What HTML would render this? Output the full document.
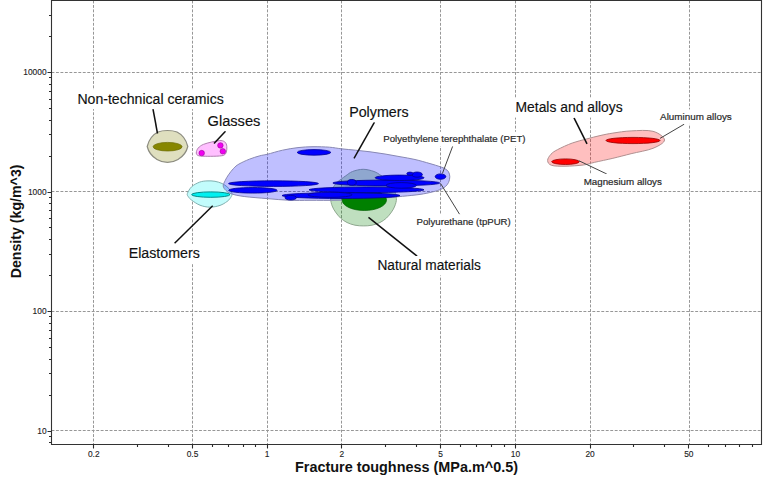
<!DOCTYPE html>
<html><head><meta charset="utf-8"><title>Fracture toughness vs Density</title>
<style>html,body{margin:0;padding:0;background:#fff;width:768px;height:478px;overflow:hidden}svg{display:block;font-family:"Liberation Sans",sans-serif}</style>
</head><body>
<svg width="768" height="478" viewBox="0 0 768 478" style="font-family:&quot;Liberation Sans&quot;,sans-serif"><g stroke="#979797" stroke-width="1" stroke-dasharray="2.9 1.57"><line x1="93.50" y1="0.5" x2="93.50" y2="444.5"/><line x1="192.50" y1="0.5" x2="192.50" y2="444.5"/><line x1="267.50" y1="0.5" x2="267.50" y2="444.5"/><line x1="341.50" y1="0.5" x2="341.50" y2="444.5"/><line x1="440.50" y1="0.5" x2="440.50" y2="444.5"/><line x1="515.50" y1="0.5" x2="515.50" y2="444.5"/><line x1="590.50" y1="0.5" x2="590.50" y2="444.5"/><line x1="689.50" y1="0.5" x2="689.50" y2="444.5"/><line x1="51.5" y1="430.50" x2="761.5" y2="430.50"/><line x1="51.5" y1="311.50" x2="761.5" y2="311.50"/><line x1="51.5" y1="191.50" x2="761.5" y2="191.50"/><line x1="51.5" y1="72.50" x2="761.5" y2="72.50"/></g>
<path d="M330.70,198.50 C330.77,195.67 331.63,191.58 332.60,189.00 C333.57,186.42 335.03,184.67 336.50,183.00 C337.97,181.33 339.85,180.20 341.40,179.00 C342.95,177.80 343.95,177.05 345.80,175.80 C347.65,174.55 349.60,172.58 352.50,171.50 C355.40,170.42 359.62,169.30 363.20,169.30 C366.78,169.30 371.03,170.47 374.00,171.50 C376.97,172.53 379.08,174.25 381.00,175.50 C382.92,176.75 384.00,177.75 385.50,179.00 C387.00,180.25 388.58,181.33 390.00,183.00 C391.42,184.67 392.93,186.42 394.00,189.00 C395.07,191.58 396.27,195.67 396.40,198.50 C396.53,201.33 395.62,203.75 394.80,206.00 C393.98,208.25 392.88,210.00 391.50,212.00 C390.12,214.00 388.42,216.25 386.50,218.00 C384.58,219.75 382.42,221.30 380.00,222.50 C377.58,223.70 374.75,224.63 372.00,225.20 C369.25,225.77 366.33,225.90 363.50,225.90 C360.67,225.90 357.75,225.77 355.00,225.20 C352.25,224.63 349.42,223.70 347.00,222.50 C344.58,221.30 342.42,219.75 340.50,218.00 C338.58,216.25 336.88,214.00 335.50,212.00 C334.12,210.00 333.00,208.25 332.20,206.00 C331.40,203.75 330.63,201.33 330.70,198.50Z" fill="rgba(0,128,0,0.25)" stroke="#8fa88f" stroke-width="1"/><path d="M187.40,193.50 C187.95,191.82 189.68,188.58 191.70,186.70 C193.72,184.82 196.95,183.17 199.50,182.20 C202.05,181.23 204.42,181.05 207.00,180.90 C209.58,180.75 212.50,180.87 215.00,181.30 C217.50,181.73 220.02,182.60 222.00,183.50 C223.98,184.40 225.48,185.53 226.90,186.70 C228.32,187.87 229.65,189.20 230.50,190.50 C231.35,191.80 232.08,193.17 232.00,194.50 C231.92,195.83 230.85,197.32 230.00,198.50 C229.15,199.68 228.57,200.45 226.90,201.60 C225.23,202.75 222.82,204.47 220.00,205.40 C217.18,206.33 213.33,207.23 210.00,207.20 C206.67,207.17 203.05,206.37 200.00,205.20 C196.95,204.03 193.63,201.60 191.70,200.20 C189.77,198.80 189.12,197.92 188.40,196.80 C187.68,195.68 186.85,195.18 187.40,193.50Z" fill="#c2fcfc" stroke="#80b0b0" stroke-width="1"/><path d="M223.20,186.00 C223.07,184.33 224.32,182.37 225.20,180.50 C226.08,178.63 227.08,176.83 228.50,174.80 C229.92,172.77 231.97,170.08 233.70,168.30 C235.43,166.52 236.28,165.62 238.90,164.10 C241.52,162.58 245.92,160.58 249.40,159.20 C252.88,157.82 256.83,156.62 259.80,155.80 C262.77,154.98 263.42,155.23 267.20,154.30 C270.98,153.37 277.37,151.32 282.50,150.20 C287.63,149.08 292.92,148.18 298.00,147.60 C303.08,147.02 307.77,146.77 313.00,146.70 C318.23,146.63 324.69,146.85 329.40,147.20 C334.11,147.55 336.88,148.30 341.25,148.80 C345.62,149.30 350.81,149.70 355.60,150.20 C360.39,150.70 365.10,151.17 370.00,151.80 C374.90,152.43 380.00,153.18 385.00,154.00 C390.00,154.82 395.00,155.78 400.00,156.70 C405.00,157.62 410.00,158.35 415.00,159.50 C420.00,160.65 425.82,162.40 430.00,163.60 C434.18,164.80 437.58,165.83 440.10,166.70 C442.62,167.57 443.70,167.95 445.10,168.80 C446.50,169.65 447.72,170.47 448.50,171.80 C449.28,173.13 449.80,175.00 449.80,176.80 C449.80,178.60 449.28,180.93 448.50,182.60 C447.72,184.27 446.37,185.68 445.10,186.80 C443.83,187.92 442.98,188.45 440.90,189.30 C438.82,190.15 436.08,191.05 432.60,191.90 C429.12,192.75 425.02,193.67 420.00,194.40 C414.98,195.13 409.17,195.65 402.50,196.30 C395.83,196.95 390.42,197.65 380.00,198.30 C369.58,198.95 351.67,199.87 340.00,200.20 C328.33,200.53 318.33,200.28 310.00,200.30 C301.67,200.32 297.13,200.58 290.00,200.30 C282.87,200.02 274.83,199.23 267.20,198.60 C259.57,197.97 250.13,197.28 244.20,196.50 C238.27,195.72 234.63,194.90 231.60,193.90 C228.57,192.90 227.40,191.82 226.00,190.50 C224.60,189.18 223.33,187.67 223.20,186.00Z" fill="rgba(0,0,255,0.25)" stroke="#8888b4" stroke-width="1"/><path d="M147.2,146.5 C148.5,141 152,135 158,132 C161,130.8 164,130.5 167.5,130.5 C171,130.5 174,130.8 177,132 C183,135 186.5,141 187.8,146.5 C186.5,152 183,156.5 178,159.5 C174.5,161.6 171,162.4 167.5,162.4 C164,162.4 160.5,161.6 157,159.5 C152,156.5 148.5,152 147.2,146.5Z" fill="rgba(128,128,0,0.25)" stroke="#8c8c80" stroke-width="1.2"/><path d="M196.3,153 C196.3,149.5 199,146.2 203.4,144.4 C208,142.6 215,141.2 219.5,140.6 C223.8,140.1 226.7,142.6 226.8,146.5 C227,150.3 226.6,154.3 223.6,155.4 C220,156.4 208,156.4 203,156.2 C199,156.1 196.3,155.6 196.3,153Z" fill="rgba(255,0,255,0.25)" stroke="#b080b0" stroke-width="1"/><path d="M547.60,160.50 C547.52,158.65 549.33,156.02 551.00,154.20 C552.67,152.38 554.05,151.47 557.60,149.60 C561.15,147.73 567.42,144.78 572.30,143.00 C577.18,141.22 582.28,140.13 586.90,138.90 C591.52,137.67 595.67,136.57 600.00,135.60 C604.33,134.63 607.72,133.88 612.90,133.10 C618.08,132.32 624.42,131.20 631.10,130.90 C637.78,130.60 647.43,129.78 653.00,131.30 C658.57,132.82 664.50,137.17 664.50,140.00 C664.50,142.83 658.57,146.02 653.00,148.30 C647.43,150.58 637.78,152.03 631.10,153.70 C624.42,155.37 618.97,156.87 612.90,158.30 C606.83,159.73 599.63,161.18 594.70,162.30 C589.77,163.42 588.25,164.35 583.30,165.00 C578.35,165.65 570.30,166.15 565.00,166.20 C559.70,166.25 554.40,166.25 551.50,165.30 C548.60,164.35 547.68,162.35 547.60,160.50Z" fill="rgba(255,0,0,0.25)" stroke="#b09090" stroke-width="1"/>
<ellipse cx="364.3" cy="200" rx="22.2" ry="10.5" fill="#008000" stroke="#006000" stroke-width="0.7"/><ellipse cx="314" cy="152.4" rx="16.8" ry="2.8" fill="#0000ff" stroke="#000090" stroke-width="0.8"/><ellipse cx="273.5" cy="183.6" rx="45" ry="2.8" fill="#0000ff" stroke="#000090" stroke-width="0.8"/><ellipse cx="252.9" cy="190.3" rx="24.2" ry="2.8" fill="#0000ff" stroke="#000090" stroke-width="0.8"/><ellipse cx="341" cy="195.6" rx="59" ry="2.9" fill="#0000ff" stroke="#000090" stroke-width="0.8"/><ellipse cx="366.5" cy="189.8" rx="57.5" ry="2.8" fill="#0000ff" stroke="#000090" stroke-width="0.8"/><ellipse cx="386.3" cy="183" rx="53.4" ry="2.9" fill="#0000ff" stroke="#000090" stroke-width="0.8"/><ellipse cx="401.2" cy="185.4" rx="15.2" ry="2.8" fill="#0000ff" stroke="#000090" stroke-width="0.8"/><ellipse cx="399.6" cy="177.8" rx="24.5" ry="2.7" fill="#0000ff" stroke="#000090" stroke-width="0.8"/><ellipse cx="330" cy="194.8" rx="22" ry="2.6" fill="#0000ff" stroke="#000090" stroke-width="0.8"/><ellipse cx="290.7" cy="197.7" rx="5.7" ry="2.3" fill="#0000ff" stroke="#000090" stroke-width="0.8"/><ellipse cx="351.8" cy="182.4" rx="4.4" ry="2.9" fill="#0000ff" stroke="#000090" stroke-width="0.8"/><ellipse cx="417.1" cy="174.6" rx="5.3" ry="2.6" fill="#0000ff" stroke="#000090" stroke-width="0.8"/><ellipse cx="410" cy="173.7" rx="3.2" ry="1.6" fill="#0000ff" stroke="#000090" stroke-width="0.8"/><ellipse cx="440.5" cy="176.6" rx="5.3" ry="2.7" fill="#0000ff" stroke="#000090" stroke-width="0.8"/><ellipse cx="167.6" cy="146.7" rx="14.5" ry="4.3" fill="#868600" stroke="#6a6a00" stroke-width="0.7"/><circle cx="201.7" cy="153.1" r="2.75" fill="#f000f0" stroke="#a000a0" stroke-width="0.6"/><circle cx="220.4" cy="145.4" r="2.75" fill="#f000f0" stroke="#a000a0" stroke-width="0.6"/><circle cx="222.8" cy="151.3" r="2.75" fill="#f000f0" stroke="#a000a0" stroke-width="0.6"/><ellipse cx="210.8" cy="194.6" rx="19.2" ry="2.7" fill="#00f0f0" stroke="#008a8a" stroke-width="1"/><ellipse cx="633" cy="140.5" rx="27" ry="3.1" fill="#ff0000" stroke="#900000" stroke-width="0.8"/><ellipse cx="565.5" cy="161.7" rx="13.8" ry="2.8" fill="#ff0000" stroke="#900000" stroke-width="0.8"/>
<path d="M51.5,0.5 L761.5,0.5 L761.5,444.5 L51.5,444.5 Z" fill="none" stroke="#333" stroke-width="1.1"/><path d="M93.50,444.5 v4 M137.50,444.5 v2.5 M168.50,444.5 v2.5 M192.50,444.5 v4 M212.50,444.5 v2.5 M228.50,444.5 v2.5 M243.50,444.5 v2.5 M255.50,444.5 v2.5 M267.50,444.5 v4 M341.50,444.5 v4 M385.50,444.5 v2.5 M416.50,444.5 v2.5 M440.50,444.5 v4 M460.50,444.5 v2.5 M476.50,444.5 v2.5 M491.50,444.5 v2.5 M504.50,444.5 v2.5 M515.50,444.5 v4 M590.50,444.5 v4 M633.50,444.5 v2.5 M664.50,444.5 v2.5 M688.50,444.5 v4 M708.50,444.5 v2.5 M725.50,444.5 v2.5 M739.50,444.5 v2.5 M752.50,444.5 v2.5 M51.5,442.50 h-2.5 M51.5,436.50 h-2.5 M51.5,431.50 h-4 M51.5,395.50 h-2.5 M51.5,373.50 h-2.5 M51.5,359.50 h-2.5 M51.5,347.50 h-2.5 M51.5,338.50 h-2.5 M51.5,330.50 h-2.5 M51.5,323.50 h-2.5 M51.5,316.50 h-2.5 M51.5,311.50 h-4 M51.5,275.50 h-2.5 M51.5,254.50 h-2.5 M51.5,239.50 h-2.5 M51.5,227.50 h-2.5 M51.5,218.50 h-2.5 M51.5,210.50 h-2.5 M51.5,203.50 h-2.5 M51.5,197.50 h-2.5 M51.5,192.50 h-4 M51.5,156.50 h-2.5 M51.5,134.50 h-2.5 M51.5,120.50 h-2.5 M51.5,108.50 h-2.5 M51.5,99.50 h-2.5 M51.5,91.50 h-2.5 M51.5,84.50 h-2.5 M51.5,77.50 h-2.5 M51.5,72.50 h-4 M51.5,36.50 h-2.5 M51.5,15.50 h-2.5" stroke="#2a2a2a" stroke-width="1.1" fill="none"/>
<line x1="153" y1="109" x2="157.5" y2="133.5" stroke="#111" stroke-width="1.5"/><line x1="225.5" y1="131.2" x2="214" y2="143.4" stroke="#111" stroke-width="1.5"/><line x1="374.5" y1="122.2" x2="354" y2="158.3" stroke="#111" stroke-width="1.5"/><line x1="368.5" y1="217.4" x2="417.1" y2="256.2" stroke="#111" stroke-width="1.5"/><line x1="212.7" y1="205.7" x2="174.6" y2="243.3" stroke="#111" stroke-width="1.5"/><line x1="574" y1="117.9" x2="587" y2="143.9" stroke="#111" stroke-width="1.5"/><line x1="452.7" y1="146.2" x2="442.4" y2="173.5" stroke="#444" stroke-width="1"/><line x1="440.5" y1="183.4" x2="459.6" y2="214.3" stroke="#444" stroke-width="1"/><line x1="660" y1="138.4" x2="684.2" y2="124.2" stroke="#444" stroke-width="1"/><line x1="578.8" y1="160.7" x2="606.8" y2="174" stroke="#444" stroke-width="1"/>
<rect x="75.4" y="89.6" width="150.8" height="19.5" fill="#fff"/><text x="77.4" y="103.8" font-size="14" fill="#111" stroke="#111" stroke-width="0.15" textLength="146.4" lengthAdjust="spacingAndGlyphs">Non-technical ceramics</text><rect x="205.5" y="111.6" width="57.3" height="19.5" fill="#fff"/><text x="207.5" y="125.8" font-size="14" fill="#111" stroke="#111" stroke-width="0.15" textLength="52.9" lengthAdjust="spacingAndGlyphs">Glasses</text><rect x="347.2" y="102.8" width="63.8" height="19.5" fill="#fff"/><text x="349.2" y="117" font-size="14" fill="#111" stroke="#111" stroke-width="0.15" textLength="59.4" lengthAdjust="spacingAndGlyphs">Polymers</text><rect x="375.4" y="256.0" width="107.8" height="19.5" fill="#fff"/><text x="377.4" y="270.2" font-size="14" fill="#111" stroke="#111" stroke-width="0.15" textLength="103.4" lengthAdjust="spacingAndGlyphs">Natural materials</text><rect x="126.7" y="243.9" width="75.5" height="19.5" fill="#fff"/><text x="128.7" y="258.1" font-size="14" fill="#111" stroke="#111" stroke-width="0.15" textLength="71.1" lengthAdjust="spacingAndGlyphs">Elastomers</text><rect x="513.5" y="98.1" width="111.6" height="19.5" fill="#fff"/><text x="515.5" y="112.3" font-size="14" fill="#111" stroke="#111" stroke-width="0.15" textLength="107.2" lengthAdjust="spacingAndGlyphs">Metals and alloys</text><rect x="382.0" y="131.8" width="145.2" height="14.5" fill="#fff"/><text x="383.3" y="142.4" font-size="9.6" fill="#2a2a2a" stroke="#2a2a2a" stroke-width="0.2" textLength="142.2" lengthAdjust="spacingAndGlyphs">Polyethylene terephthalate (PET)</text><rect x="415.3" y="214.5" width="97.2" height="14.5" fill="#fff"/><text x="416.6" y="225.1" font-size="9.6" fill="#2a2a2a" stroke="#2a2a2a" stroke-width="0.2" textLength="94.2" lengthAdjust="spacingAndGlyphs">Polyurethane (tpPUR)</text><rect x="658.8" y="109.4" width="74.7" height="14.5" fill="#fff"/><text x="660.1" y="120" font-size="9.6" fill="#2a2a2a" stroke="#2a2a2a" stroke-width="0.2" textLength="71.7" lengthAdjust="spacingAndGlyphs">Aluminum alloys</text><rect x="582.4" y="173.9" width="81.2" height="14.5" fill="#fff"/><text x="583.7" y="184.5" font-size="9.6" fill="#2a2a2a" stroke="#2a2a2a" stroke-width="0.2" textLength="78.2" lengthAdjust="spacingAndGlyphs">Magnesium alloys</text>
<g font-size="8.4" fill="#222" stroke="#222" stroke-width="0.12"><text x="93.72" y="456.5" text-anchor="middle">0.2</text><text x="192.48" y="456.5" text-anchor="middle">0.5</text><text x="267.20" y="456.5" text-anchor="middle">1</text><text x="341.92" y="456.5" text-anchor="middle">2</text><text x="440.68" y="456.5" text-anchor="middle">5</text><text x="515.40" y="456.5" text-anchor="middle">10</text><text x="590.12" y="456.5" text-anchor="middle">20</text><text x="688.88" y="456.5" text-anchor="middle">50</text><text x="46.6" y="433.60" text-anchor="end">10</text><text x="46.6" y="314.10" text-anchor="end">100</text><text x="46.6" y="194.60" text-anchor="end">1000</text><text x="46.6" y="75.10" text-anchor="end">10000</text></g>
<text x="295" y="471.9" font-size="14" font-weight="bold" fill="#111" textLength="223" lengthAdjust="spacingAndGlyphs">Fracture toughness (MPa.m^0.5)</text>
<text transform="translate(20.7,278.3) rotate(-90)" x="0" y="0" font-size="14" font-weight="bold" fill="#111" textLength="113.8" lengthAdjust="spacingAndGlyphs">Density (kg/m^3)</text></svg>
</body></html>
